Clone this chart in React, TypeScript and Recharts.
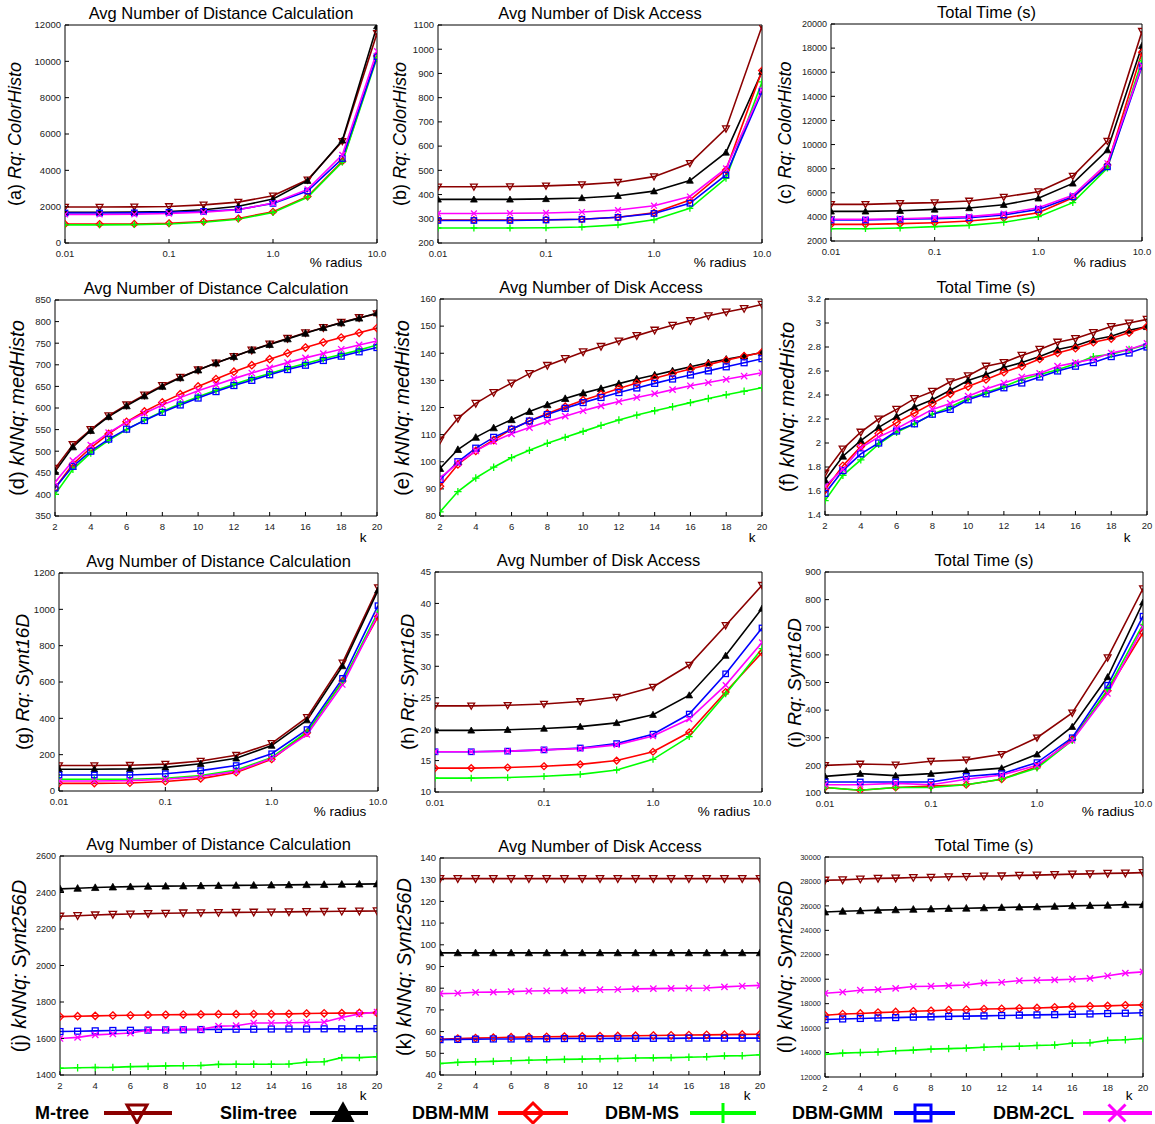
import React from 'react'
import { LineChart, Line, XAxis, YAxis } from 'recharts'

const RADIUS = [0.01, 0.0215, 0.0464, 0.1, 0.215, 0.464, 1, 2.15, 4.64, 10]
const K = [2, 3, 4, 5, 6, 7, 8, 9, 10, 11, 12, 13, 14, 15, 16, 17, 18, 19, 20]
const RADIUS_TICKS = [0.01, 0.1, 1, 10]
const K_TICKS = [2, 4, 6, 8, 10, 12, 14, 16, 18, 20]

// (a) Rq ColorHisto - distance calculations
const aMtree = [1980, 1980, 1990, 2010, 2100, 2250, 2600, 3480, 5600, 11540]
const aSlim = [1690, 1690, 1700, 1730, 1830, 2020, 2420, 3430, 5650, 11940]
const aMm = [1040, 1040, 1050, 1090, 1180, 1350, 1720, 2560, 4500, 10300]
const aMs = [1000, 1000, 1010, 1050, 1140, 1310, 1680, 2520, 4450, 10200]
const aGmm = [1650, 1650, 1660, 1690, 1740, 1840, 2180, 2860, 4650, 10260]
const aCl = [1570, 1570, 1580, 1620, 1700, 1830, 2200, 2950, 4850, 10560]
const aTicks = [0, 2000, 4000, 6000, 8000, 10000, 12000]

// (b) Rq ColorHisto - disk access
const bMtree = [432, 432, 433, 436, 441, 451, 474, 529, 672, 1095]
const bSlim = [380, 380, 380, 382, 386, 395, 414, 458, 574, 908]
const bMm = [295, 295, 295, 296, 298, 306, 325, 377, 501, 912]
const bMs = [262, 262, 262, 263, 266, 275, 296, 343, 467, 865]
const bGmm = [293, 293, 293, 295, 298, 306, 322, 364, 481, 826]
const bCl = [322, 322, 323, 324, 328, 336, 354, 392, 508, 832]
const bTicks = [200, 300, 400, 500, 600, 700, 800, 900, 1000, 1100]

// (c) Rq ColorHisto - total time
const cMtree = [5040, 5040, 5120, 5180, 5320, 5650, 6090, 7390, 10290, 19400]
const cSlim = [4460, 4460, 4510, 4620, 4740, 5010, 5540, 6780, 9540, 18200]
const cMm = [3380, 3380, 3440, 3520, 3660, 3910, 4350, 5590, 8300, 17660]
const cMs = [3020, 3020, 3080, 3190, 3300, 3550, 4020, 5180, 8050, 16950]
const cGmm = [3740, 3740, 3800, 3850, 3930, 4160, 4620, 5670, 8150, 16500]
const cCl = [3800, 3800, 3850, 3930, 4020, 4270, 4760, 5790, 8450, 16560]
const cTicks = [2000, 4000, 6000, 8000, 10000, 12000, 14000, 16000, 18000, 20000]

// (d) kNNq medHisto - distance calculations
const dMtree = [460, 515, 550, 582, 607, 630, 652, 671, 688, 704, 719, 734, 748, 761, 774, 786, 798, 809, 818]
const dSlim = [453, 510, 548, 580, 605, 628, 650, 670, 688, 704, 719, 734, 747, 760, 773, 786, 797, 808, 820]
const dMm = [415, 470, 508, 540, 568, 592, 613, 632, 650, 667, 684, 699, 713, 727, 740, 752, 763, 774, 785]
const dMs = [400, 458, 496, 525, 550, 572, 592, 610, 626, 641, 655, 668, 680, 692, 703, 714, 724, 734, 746]
const dGmm = [415, 465, 500, 528, 551, 571, 590, 607, 623, 638, 652, 664, 677, 689, 699, 710, 720, 730, 740]
const dCl = [428, 478, 514, 543, 567, 588, 607, 624, 640, 654, 668, 681, 693, 705, 716, 726, 736, 746, 755]
const dTicks = [350, 400, 450, 500, 550, 600, 650, 700, 750, 800, 850]

// (e) kNNq medHisto - disk access
const eMtree = [108, 116, 121.5, 125.5, 129, 132.5, 135.5, 138, 140.5, 142.5, 144.5, 146.5, 148.5, 150.3, 152, 153.8, 155.2, 156.5, 158]
const eSlim = [97.5, 104.5, 109, 112.5, 115.5, 118.5, 121, 123.3, 125.3, 127, 128.8, 130.5, 132, 133.5, 135, 136.5, 137.8, 139, 140.3]
const eMm = [91, 99, 104, 108, 112, 115, 117.8, 120.3, 122.7, 124.8, 127, 129, 130.8, 132.5, 134.2, 135.8, 137.4, 138.9, 140.3]
const eMs = [81.5, 89, 94, 98, 101.5, 104.2, 106.8, 109, 111.2, 113.4, 115.4, 117.2, 118.8, 120.3, 121.8, 123.3, 124.7, 126, 127.3]
const eGmm = [93.5, 100, 105, 109, 112, 115, 117.4, 119.7, 121.8, 123.7, 125.5, 127.2, 128.9, 130.5, 132, 133.5, 135, 136.5, 138]
const eCl = [94, 99.5, 104, 107.5, 110.3, 112.6, 114.8, 116.8, 118.8, 120.6, 122.2, 123.7, 125.1, 126.6, 128, 129.2, 130.4, 131.6, 132.8]
const eTicks = [80, 90, 100, 110, 120, 130, 140, 150, 160]

// (f) kNNq medHisto - total time
const fMtree = [1.75, 1.95, 2.09, 2.2, 2.28, 2.37, 2.43, 2.51, 2.56, 2.64, 2.67, 2.73, 2.78, 2.84, 2.87, 2.92, 2.97, 3.0, 3.03]
const fSlim = [1.69, 1.89, 2.02, 2.13, 2.22, 2.3, 2.36, 2.44, 2.52, 2.57, 2.63, 2.67, 2.72, 2.78, 2.81, 2.86, 2.89, 2.94, 2.97]
const fMm = [1.61, 1.81, 1.97, 2.08, 2.17, 2.25, 2.33, 2.41, 2.47, 2.53, 2.59, 2.64, 2.7, 2.75, 2.79, 2.84, 2.87, 2.92, 2.97]
const fMs = [1.52, 1.73, 1.86, 1.99, 2.09, 2.16, 2.24, 2.3, 2.37, 2.42, 2.47, 2.53, 2.57, 2.61, 2.66, 2.72, 2.74, 2.78, 2.82]
const fGmm = [1.58, 1.77, 1.91, 2.0, 2.1, 2.16, 2.24, 2.28, 2.36, 2.41, 2.46, 2.5, 2.55, 2.6, 2.64, 2.67, 2.72, 2.75, 2.8]
const fCl = [1.64, 1.78, 1.96, 2.05, 2.12, 2.2, 2.28, 2.33, 2.39, 2.45, 2.5, 2.55, 2.58, 2.64, 2.67, 2.7, 2.75, 2.78, 2.83]
const fTicks = [1.4, 1.6, 1.8, 2, 2.2, 2.4, 2.6, 2.8, 3, 3.2]

// (g) Rq Synt16D - distance calculations
const gMtree = [140, 140, 142, 148, 165, 197, 262, 405, 705, 1120]
const gSlim = [120, 120, 122, 130, 150, 180, 250, 390, 688, 1105]
const gMm = [42, 42, 44, 52, 68, 102, 175, 320, 605, 960]
const gMs = [65, 65, 65, 70, 85, 115, 185, 325, 600, 985]
const gGmm = [88, 88, 88, 95, 112, 140, 205, 338, 620, 1020]
const gCl = [55, 55, 57, 65, 80, 108, 180, 310, 585, 970]
const gTicks = [0, 200, 400, 600, 800, 1000, 1200]

// (h) Rq Synt16D - disk access
const hMtree = [23.7, 23.7, 23.8, 24.0, 24.4, 25.1, 26.7, 30.2, 36.5, 42.9]
const hSlim = [19.8, 19.8, 19.9, 20.1, 20.4, 21.0, 22.3, 25.4, 31.7, 39.2]
const hMm = [13.8, 13.8, 13.9, 14.1, 14.4, 15.0, 16.4, 19.5, 25.9, 32.2]
const hMs = [12.2, 12.2, 12.3, 12.5, 12.8, 13.5, 15.2, 18.8, 25.6, 32.8]
const hGmm = [16.4, 16.4, 16.5, 16.7, 17.0, 17.7, 19.2, 22.4, 28.8, 36.1]
const hCl = [16.4, 16.4, 16.5, 16.7, 16.9, 17.5, 18.9, 21.6, 27.0, 33.8]
const hTicks = [10, 15, 20, 25, 30, 35, 40, 45]

// (i) Rq Synt16D - total time
const iMtree = [200, 205, 202, 215, 220, 240, 300, 390, 590, 840]
const iSlim = [160, 170, 163, 170, 180, 190, 240, 340, 520, 790]
const iMm = [120, 110, 120, 125, 130, 150, 195, 295, 470, 680]
const iMs = [120, 110, 120, 120, 130, 150, 190, 290, 475, 710]
const iGmm = [140, 140, 140, 140, 160, 170, 210, 300, 490, 740]
const iCl = [130, 130, 135, 130, 150, 165, 200, 290, 460, 700]
const iTicks = [100, 200, 300, 400, 500, 600, 700, 800, 900]

// (j) kNNq Synt256D - distance calculations
const jMtree = [2270, 2273, 2277, 2280, 2282, 2284, 2286, 2288, 2289, 2290, 2291, 2292, 2293, 2294, 2295, 2296, 2297, 2298, 2299]
const jSlim = [2420, 2423, 2427, 2430, 2432, 2434, 2435, 2436, 2437, 2438, 2439, 2440, 2441, 2442, 2443, 2444, 2445, 2446, 2447]
const jMm = [1720, 1722, 1724, 1726, 1727, 1729, 1730, 1731, 1732, 1733, 1733, 1734, 1734, 1735, 1737, 1738, 1739, 1740, 1741]
const jMs = [1437, 1440, 1441, 1442, 1446, 1447, 1450, 1451, 1452, 1458, 1459, 1459, 1459, 1460, 1470, 1473, 1495, 1495, 1500]
const jGmm = [1638, 1640, 1642, 1644, 1645, 1646, 1647, 1648, 1649, 1650, 1651, 1651, 1652, 1652, 1652, 1653, 1653, 1653, 1654]
const jCl = [1600, 1606, 1620, 1625, 1630, 1645, 1648, 1650, 1650, 1668, 1670, 1685, 1685, 1686, 1688, 1690, 1715, 1735, 1745]
const jTicks = [1400, 1600, 1800, 2000, 2200, 2400, 2600]

// (k) kNNq Synt256D - disk access
const kMtree = [130.5, 130.5, 130.5, 130.5, 130.5, 130.5, 130.5, 130.5, 130.5, 130.5, 130.5, 130.5, 130.5, 130.5, 130.5, 130.5, 130.5, 130.5, 130.5]
const kSlim = [96.3, 96.3, 96.3, 96.3, 96.3, 96.3, 96.3, 96.3, 96.3, 96.3, 96.3, 96.3, 96.3, 96.3, 96.3, 96.3, 96.3, 96.3, 96.3]
const kMm = [56.5, 56.8, 57.0, 57.2, 57.4, 57.5, 57.6, 57.7, 57.8, 57.9, 58.0, 58.1, 58.2, 58.3, 58.4, 58.5, 58.6, 58.7, 58.8]
const kMs = [45.3, 45.8, 46.1, 46.3, 46.6, 46.8, 47.0, 47.2, 47.3, 47.5, 47.6, 47.8, 47.9, 48.0, 48.2, 48.4, 48.8, 48.9, 49.3]
const kGmm = [56.3, 56.4, 56.5, 56.6, 56.6, 56.7, 56.7, 56.8, 56.8, 56.8, 56.9, 56.9, 56.9, 56.9, 57.0, 57.0, 57.0, 57.0, 57.0]
const kCl = [77.5, 77.7, 78.1, 78.2, 78.4, 78.7, 78.8, 78.9, 79.0, 79.3, 79.4, 79.7, 79.8, 79.9, 80.0, 80.1, 80.6, 81.0, 81.3]
const kTicks = [40, 50, 60, 70, 80, 90, 100, 110, 120, 130, 140]

// (l) kNNq Synt256D - total time
const lMtree = [28100, 28130, 28200, 28250, 28270, 28320, 28340, 28380, 28400, 28440, 28450, 28500, 28520, 28560, 28600, 28620, 28660, 28680, 28720]
const lSlim = [25500, 25560, 25600, 25650, 25680, 25720, 25750, 25790, 25810, 25840, 25870, 25900, 25920, 25960, 26000, 26030, 26050, 26100, 26100]
const lMm = [17050, 17150, 17200, 17270, 17320, 17380, 17420, 17480, 17500, 17560, 17580, 17620, 17650, 17700, 17760, 17790, 17820, 17870, 17900]
const lMs = [13850, 13950, 14000, 14050, 14150, 14200, 14280, 14320, 14360, 14440, 14490, 14520, 14580, 14620, 14760, 14800, 15000, 15050, 15150]
const lGmm = [16700, 16750, 16790, 16830, 16860, 16900, 16920, 16960, 16980, 17000, 17030, 17060, 17080, 17100, 17130, 17160, 17190, 17220, 17260]
const lCl = [18850, 18950, 19100, 19150, 19250, 19400, 19430, 19480, 19530, 19700, 19750, 19880, 19920, 19950, 20000, 20070, 20280, 20500, 20600]
const lTicks = [12000, 14000, 16000, 18000, 20000, 22000, 24000, 26000, 28000, 30000]

const SERIES = [
  { key: 'mtree', name: 'M-tree', color: '#8B0000', shape: 'down' },
  { key: 'slim', name: 'Slim-tree', color: '#000000', shape: 'up' },
  { key: 'mm', name: 'DBM-MM', color: '#FF0000', shape: 'diamond' },
  { key: 'ms', name: 'DBM-MS', color: '#00FF00', shape: 'plus' },
  { key: 'gmm', name: 'DBM-GMM', color: '#0000FF', shape: 'square' },
  { key: 'cl2', name: 'DBM-2CL', color: '#FF00FF', shape: 'x' },
]

const DIST = 'Avg Number of Distance Calculation'
const DISK = 'Avg Number of Disk Access'
const TIME = 'Total Time (s)'

const PANELS = [
  { tag: '(a) ', q: 'Rq: ColorHisto', title: DIST, log: true, yTicks: aTicks, values: [aMtree, aSlim, aMm, aMs, aGmm, aCl], rect: [65, 25, 377, 243], labX: 15, font: 18, yFont: 9.5, name: [336, 262] },
  { tag: '(b) ', q: 'Rq: ColorHisto', title: DISK, log: true, yTicks: bTicks, values: [bMtree, bSlim, bMm, bMs, bGmm, bCl], rect: [438, 25, 762, 243], labX: 400, font: 18, yFont: 9.5, name: [720, 262] },
  { tag: '(c) ', q: 'Rq: ColorHisto', title: TIME, log: true, yTicks: cTicks, values: [cMtree, cSlim, cMm, cMs, cGmm, cCl], rect: [831, 24, 1142, 241], labX: 785, font: 18, yFont: 9, name: [1100, 262] },
  { tag: '(d) ', q: 'kNNq: medHisto', title: DIST, log: false, yTicks: dTicks, values: [dMtree, dSlim, dMm, dMs, dGmm, dCl], rect: [55, 300, 377, 516], labX: 17, font: 20, yFont: 9.5, name: [363, 537] },
  { tag: '(e) ', q: 'kNNq: medHisto', title: DISK, log: false, yTicks: eTicks, values: [eMtree, eSlim, eMm, eMs, eGmm, eCl], rect: [440, 299, 762, 516], labX: 402, font: 20, yFont: 9.5, name: [752, 537] },
  { tag: '(f) ', q: 'kNNq: medHisto', title: TIME, log: false, yTicks: fTicks, values: [fMtree, fSlim, fMm, fMs, fGmm, fCl], rect: [825, 299, 1147, 515], labX: 787, font: 20, yFont: 9.5, name: [1127, 537] },
  { tag: '(g) ', q: 'Rq: Synt16D', title: DIST, log: true, yTicks: gTicks, values: [gMtree, gSlim, gMm, gMs, gGmm, gCl], rect: [59, 573, 378, 791], labX: 23, font: 19, yFont: 9.5, name: [340, 811] },
  { tag: '(h) ', q: 'Rq: Synt16D', title: DISK, log: true, yTicks: hTicks, values: [hMtree, hSlim, hMm, hMs, hGmm, hCl], rect: [435, 572, 762, 792], labX: 408, font: 19, yFont: 9.5, name: [724, 811] },
  { tag: '(i) ', q: 'Rq: Synt16D', title: TIME, log: true, yTicks: iTicks, values: [iMtree, iSlim, iMm, iMs, iGmm, iCl], rect: [825, 572, 1143, 793], labX: 795, font: 19, yFont: 9.5, name: [1108, 811] },
  { tag: '(j) ', q: 'kNNq: Synt256D', title: DIST, log: false, yTicks: jTicks, values: [jMtree, jSlim, jMm, jMs, jGmm, jCl], rect: [60, 856, 377, 1075], labX: 19, font: 20, yFont: 9, name: [363, 1095] },
  { tag: '(k) ', q: 'kNNq: Synt256D', title: DISK, log: false, yTicks: kTicks, values: [kMtree, kSlim, kMm, kMs, kGmm, kCl], rect: [440, 858, 760, 1075], labX: 404, font: 20, yFont: 9.5, name: [747, 1095] },
  { tag: '(l) ', q: 'kNNq: Synt256D', title: TIME, log: false, yTicks: lTicks, values: [lMtree, lSlim, lMm, lMs, lGmm, lCl], rect: [825, 857, 1143, 1077], labX: 785, font: 20, yFont: 7.5, name: [1129, 1095] },
]

// legend layout: text left, sample line start/end, marker centre
const LEGEND_POS = [
  [35, 104, 172, 137],
  [220, 310, 368, 343],
  [412, 498, 568, 533],
  [605, 690, 756, 723],
  [792, 894, 955, 923],
  [993, 1083, 1152, 1117],
]

const FONT = '"Liberation Sans", Arial, Helvetica, sans-serif'

function marker(shape: string, x: number, y: number, s: number, color: string, sw: number) {
  switch (shape) {
    case 'down':
      return <polygon points={`${x - s},${y - s * 0.8} ${x + s},${y - s * 0.8} ${x},${y + s}`} fill="none" stroke={color} strokeWidth={sw} />
    case 'up':
      return <polygon points={`${x - s},${y + s * 0.8} ${x + s},${y + s * 0.8} ${x},${y - s}`} fill={color} stroke={color} strokeWidth={sw * 0.6} />
    case 'diamond':
      return <polygon points={`${x},${y - s} ${x + s},${y} ${x},${y + s} ${x - s},${y}`} fill="none" stroke={color} strokeWidth={sw} />
    case 'plus':
      return <path d={`M${x - s},${y}H${x + s}M${x},${y - s}V${y + s}`} stroke={color} strokeWidth={sw} fill="none" />
    case 'square':
      return <rect x={x - s * 0.8} y={y - s * 0.8} width={s * 1.6} height={s * 1.6} fill="none" stroke={color} strokeWidth={sw} />
    default:
      return <path d={`M${x - s * 0.85},${y - s * 0.85}L${x + s * 0.85},${y + s * 0.85}M${x + s * 0.85},${y - s * 0.85}L${x - s * 0.85},${y + s * 0.85}`} stroke={color} strokeWidth={sw} fill="none" />
  }
}

const makeDot = (shape: string, color: string, s: number) => (p: any) => {
  const k = `dot-${p.index}`
  if (p.cx == null || p.cy == null) return <g key={k} />
  return <g key={k}>{marker(shape, p.cx, p.cy, s, color, 1.3)}</g>
}

const fmtRadius = (v: number) => (v < 1 ? String(v) : v.toFixed(1))

function Panel({ cfg }: { cfg: any }) {
  const [l, t, r, b] = cfg.rect
  const yw = 50
  const xh = 24
  const mt = 6
  const mr = 18
  const W = r - l + yw + mr + 1
  const H = b - t + mt + 1 + xh
  const xs = cfg.log ? RADIUS : K
  const data = xs.map((x: number, i: number) => {
    const row: any = { x }
    SERIES.forEach((s, j) => {
      row[s.key] = cfg.values[j][i]
    })
    return row
  })
  const xDomain = cfg.log ? [0.01, 10] : [2, 20]
  const xTicks = cfg.log ? RADIUS_TICKS : K_TICKS
  const yDomain = [cfg.yTicks[0], cfg.yTicks[cfg.yTicks.length - 1]]
  const xTickStyle = { fontSize: 9.5, fill: '#222', fontFamily: FONT }
  const yTickStyle = { fontSize: cfg.yFont, fill: '#222', fontFamily: FONT }
  const dotSize = cfg.log ? 3.4 : 3.7
  return (
    <>
      <div style={{ position: 'absolute', left: l - yw, top: t - mt - 1, width: W, height: H }}>
        <LineChart width={W} height={H} data={data} margin={{ top: mt, right: mr, bottom: 0, left: 0 }}>
          <XAxis
            xAxisId="b"
            dataKey="x"
            type="number"
            scale={cfg.log ? 'log' : 'linear'}
            domain={xDomain}
            ticks={xTicks}
            interval={0}
            allowDataOverflow
            height={xh}
            tickSize={-4}
            tickMargin={11}
            tick={xTickStyle}
            tickFormatter={cfg.log ? fmtRadius : undefined}
            stroke="#000"
          />
          <XAxis
            xAxisId="t"
            orientation="top"
            dataKey="x"
            type="number"
            scale={cfg.log ? 'log' : 'linear'}
            domain={xDomain}
            ticks={xTicks}
            interval={0}
            allowDataOverflow
            height={1}
            tickSize={-4}
            tick={false}
            stroke="#000"
          />
          <YAxis
            yAxisId="l"
            type="number"
            domain={yDomain}
            ticks={cfg.yTicks}
            interval={0}
            allowDataOverflow
            width={yw}
            tickSize={-4}
            tickMargin={8}
            tick={yTickStyle}
            stroke="#000"
          />
          <YAxis
            yAxisId="r"
            orientation="right"
            type="number"
            domain={yDomain}
            ticks={cfg.yTicks}
            interval={0}
            allowDataOverflow
            width={1}
            tickSize={-4}
            tick={false}
            stroke="#000"
          />
          {SERIES.map((s) => (
            <Line
              key={s.key}
              xAxisId="b"
              yAxisId="l"
              type="linear"
              dataKey={s.key}
              stroke={s.color}
              strokeWidth={1.6}
              dot={makeDot(s.shape, s.color, dotSize)}
              activeDot={false}
              isAnimationActive={false}
            />
          ))}
        </LineChart>
      </div>
      <div
        style={{
          position: 'absolute',
          left: l,
          width: r - l,
          top: t - 22,
          height: 20,
          lineHeight: '20px',
          textAlign: 'center',
          fontSize: 16.5,
          whiteSpace: 'nowrap',
        }}
      >
        {cfg.title}
      </div>
      <div
        style={{
          position: 'absolute',
          left: cfg.labX,
          top: (t + b) / 2,
          transform: 'translate(-50%, -50%) rotate(-90deg)',
          fontSize: cfg.font,
          whiteSpace: 'nowrap',
        }}
      >
        {cfg.tag}
        <i>{cfg.q}</i>
      </div>
      <div
        style={{
          position: 'absolute',
          left: cfg.name[0],
          top: cfg.name[1],
          transform: 'translate(-50%, -50%)',
          fontSize: 13.5,
          whiteSpace: 'nowrap',
        }}
      >
        {cfg.log ? '% radius' : 'k'}
      </div>
    </>
  )
}

function LegendRow() {
  const y = 1113
  return (
    <>
      {SERIES.map((s, i) => {
        const [tx, x0, x1, mx] = LEGEND_POS[i]
        return (
          <React.Fragment key={s.key}>
            <div
              style={{
                position: 'absolute',
                left: tx,
                top: y - 12,
                height: 24,
                lineHeight: '24px',
                fontSize: 18,
                fontWeight: 'bold',
                whiteSpace: 'nowrap',
              }}
            >
              {s.name}
            </div>
            <svg style={{ position: 'absolute', left: x0, top: y - 15 }} width={x1 - x0} height={30}>
              <line x1={0} y1={15} x2={x1 - x0} y2={15} stroke={s.color} strokeWidth={4} />
              {marker(s.shape, mx - x0, 15, 10, s.color, 3)}
            </svg>
          </React.Fragment>
        )
      })}
    </>
  )
}

export default function App() {
  return (
    <div
      style={{
        position: 'absolute',
        left: 0,
        top: 0,
        width: 1155,
        height: 1124,
        overflow: 'hidden',
        background: '#fff',
        fontFamily: FONT,
        color: '#000',
      }}
    >
      {PANELS.map((p, i) => (
        <Panel key={i} cfg={p} />
      ))}
      <LegendRow />
    </div>
  )
}
